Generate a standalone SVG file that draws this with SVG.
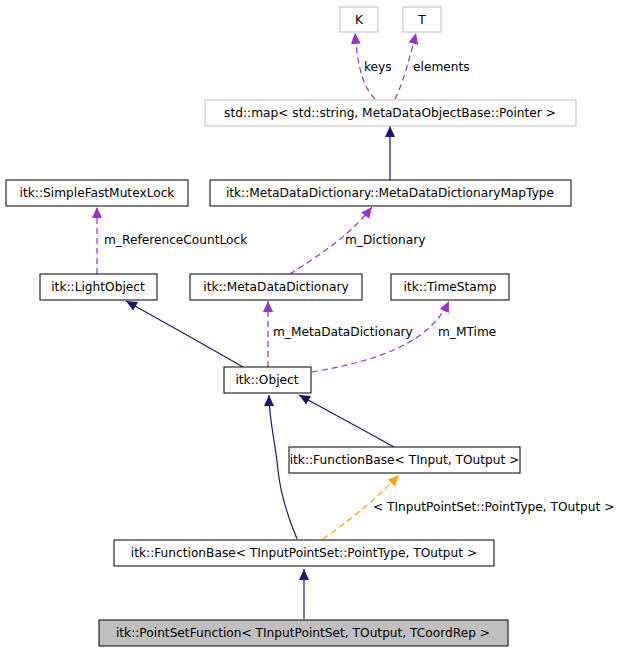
<svg xmlns="http://www.w3.org/2000/svg" width="629" height="653" viewBox="0 0 629 653">
<style>
rect{fill:#fff;stroke:#000;stroke-width:1}
.g rect{stroke:#bfbfbf}
text{font-family:"DejaVu Sans",sans-serif;font-size:12.2px;fill:#000;text-anchor:middle}
.l{text-anchor:start}
.inh{fill:none;stroke:#191970;stroke-width:1.2}
.use{fill:none;stroke:#9a32cd;stroke-width:1.2;stroke-dasharray:6,4}
.tpl{fill:none;stroke:#ffa500;stroke-width:1.2;stroke-dasharray:6,4}
</style>
<defs>
<marker id="ai" markerWidth="12" markerHeight="12" refX="11" refY="5" orient="auto" markerUnits="userSpaceOnUse"><path d="M0,0L11,5L0,10z" fill="#191970"/></marker>
<marker id="au" markerWidth="12" markerHeight="12" refX="11" refY="5" orient="auto" markerUnits="userSpaceOnUse"><path d="M0,0L11,5L0,10z" fill="#9a32cd"/></marker>
<marker id="at" markerWidth="12" markerHeight="12" refX="11" refY="5" orient="auto" markerUnits="userSpaceOnUse"><path d="M0,0L11,5L0,10z" fill="#ffa500"/></marker>
</defs>
<g id="edges">
<path class="use" d="M375,99C366,90 358,75 355,33" marker-end="url(#au)"/>
<text class="l" x="364" y="71">keys</text>
<path class="use" d="M395,99C402,85 408,65 416,33" marker-end="url(#au)"/>
<text class="l" x="413" y="71">elements</text>
<path class="inh" d="M390,180V126" marker-end="url(#ai)"/>
<path class="use" d="M97,274V207" marker-end="url(#au)"/>
<text class="l" x="104" y="244">m_ReferenceCountLock</text>
<path class="use" d="M290,274C320,255 350,235 372,207" marker-end="url(#au)"/>
<text class="l" x="345" y="244">m_Dictionary</text>
<path class="inh" d="M243,367C205,345 160,320 126,301" marker-end="url(#ai)"/>
<path class="use" d="M268,367V301" marker-end="url(#au)"/>
<text class="l" x="273" y="336">m_MetaDataDictionary</text>
<path class="use" d="M312,372C370,362 428,346 449,301" marker-end="url(#au)"/>
<text class="l" x="438" y="336">m_MTime</text>
<path class="inh" d="M394,447C360,428 330,412 299,395" marker-end="url(#ai)"/>
<path class="inh" d="M297,539C285,510 280,490 278,470C275,440 269,420 269,395" marker-end="url(#ai)"/>
<path class="tpl" d="M323,539C350,520 375,500 399,475" marker-end="url(#at)"/>
<text class="l" x="373" y="511">&lt; TInputPointSet::PointType, TOutput &gt;</text>
<path class="inh" d="M304,619V569" marker-end="url(#ai)"/>
</g>
<g id="K" class="g"><rect x="340" y="7" width="38" height="25"/><text x="359" y="24">K</text></g>
<g id="T" class="g"><rect x="403" y="7" width="38" height="25"/><text x="422" y="24">T</text></g>
<g id="map" class="g"><rect x="205" y="100" width="371" height="26"/><text x="390" y="117">std::map&lt; std::string, MetaDataObjectBase::Pointer &gt;</text></g>
<g id="mapType"><rect x="210" y="180" width="361" height="26"/><text x="390" y="197">itk::MetaDataDictionary::MetaDataDictionaryMapType</text></g>
<g id="mutex"><rect x="6" y="180" width="182" height="26"/><text x="97" y="197">itk::SimpleFastMutexLock</text></g>
<g id="light"><rect x="40" y="274" width="117" height="26"/><text x="98" y="291">itk::LightObject</text></g>
<g id="mdd"><rect x="190" y="274" width="172" height="26"/><text x="276" y="291">itk::MetaDataDictionary</text></g>
<g id="ts"><rect x="391" y="274" width="118" height="26"/><text x="450" y="291">itk::TimeStamp</text></g>
<g id="obj"><rect x="224" y="367" width="87" height="26"/><text x="267" y="384">itk::Object</text></g>
<g id="fb2"><rect x="289" y="447" width="231" height="26"/><text x="404.5" y="464">itk::FunctionBase&lt; TInput, TOutput &gt;</text></g>
<g id="fb1"><rect x="114" y="540" width="380" height="26"/><text x="304" y="557">itk::FunctionBase&lt; TInputPointSet::PointType, TOutput &gt;</text></g>
<g id="psf"><rect x="99" y="620" width="409" height="26" style="fill:#bfbfbf"/><text x="303" y="637">itk::PointSetFunction&lt; TInputPointSet, TOutput, TCoordRep &gt;</text></g>
</svg>
